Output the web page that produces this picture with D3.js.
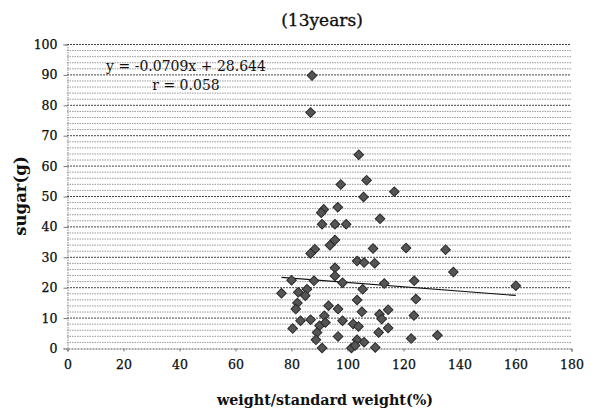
<!DOCTYPE html>
<html>
<head>
<meta charset="utf-8">
<script src="https://cdn.jsdelivr.net/npm/d3@7"></script>
<style>
  html, body { margin: 0; padding: 0; background: #fff; }
  svg { display: block; }
  text { font-family: "DejaVu Serif", "Liberation Serif", serif; fill: #111; }
</style>
</head>
<body>
<div id="chart"></div>
<script>
// ---- data ----
const xValues = [
  87.5, 87.0, 104.2, 107.0, 97.8, 116.9, 105.9, 96.7, 91.7, 90.8,
  111.8, 91.1, 95.7, 99.7, 95.7, 93.9, 88.5, 87.0, 109.3, 103.6,
  106.1, 109.9, 95.7, 95.7, 98.4, 80.2, 88.2, 113.3, 76.6, 82.6,
  85.7, 85.1, 105.6, 103.6, 82.3, 81.7, 93.4, 96.8, 114.7, 105.3,
  111.6, 112.4, 83.4, 87.0, 91.9, 98.4, 102.2, 104.1, 80.6, 90.2,
  89.3, 92.3, 114.7, 111.3, 96.8, 88.9, 103.6, 106.1, 91.1, 101.6,
  102.9, 110.1, 121.1, 135.2, 138.0, 124.0, 124.6, 123.9, 132.3, 122.9,
  160.3
];
const yValues = [
  89.6, 77.5, 63.6, 55.2, 53.8, 51.4, 49.7, 46.3, 45.6, 44.5,
  42.5, 40.7, 40.7, 40.7, 35.5, 33.8, 32.5, 31.1, 32.7, 28.6,
  28.1, 27.9, 26.4, 23.7, 21.5, 22.3, 22.1, 21.2, 18.0, 18.3,
  19.3, 17.2, 19.3, 15.8, 14.8, 12.8, 13.9, 12.8, 12.6, 11.9,
  11.1, 9.5, 9.0, 9.3, 10.6, 9.0, 7.9, 7.1, 6.4, 7.3,
  5.1, 8.4, 6.6, 5.1, 3.8, 2.7, 2.7, 1.9, 0.0, 0.0,
  0.8, 0.2, 32.9, 32.3, 25.0, 22.1, 16.1, 10.7, 4.2, 3.1,
  20.5
];
const xTicks = [0, 20, 40, 60, 80, 100, 120, 140, 160, 180];
const yTicks = [0, 10, 20, 30, 40, 50, 60, 70, 80, 90, 100];
const yMinorTicks = d3.range(2, 100, 2).filter(v => v % 10 !== 0);
const slope = -0.0709;
const intercept = 28.644;
const titleText = "(13years)";
const xLabel = "weight/standard weight(%)";
const yLabel = "sugar(g)";
const equationText = "y = -0.0709x + 28.644";
const rText = "r = 0.058";

// ---- layout ----
const W = 616, H = 411;
const svg = d3.select("#chart").append("svg").attr("width", W).attr("height", H);

const x = d3.scaleLinear().domain([0, 180]).range([67, 571]);
const y = d3.scaleLinear().domain([0, 100]).range([348, 44]);

// minor gridlines
svg.append("g").selectAll("line").data(yMinorTicks).join("line")
  .attr("x1", x(0)).attr("x2", x(180))
  .attr("y1", d => y(d) + 0.5).attr("y2", d => y(d) + 0.5)
  .attr("stroke", "#9a9a9a").attr("stroke-width", 1)
  .attr("stroke-dasharray", "1.5,1");

// major gridlines
svg.append("g").selectAll("line").data(yTicks.filter(v => v > 0)).join("line")
  .attr("x1", x(0)).attr("x2", x(180))
  .attr("y1", d => y(d) + 0.5).attr("y2", d => y(d) + 0.5)
  .attr("stroke", "#444").attr("stroke-width", 1)
  .attr("stroke-dasharray", "2,1");

// y axis
const yAxis = d3.axisLeft(y).tickValues(yTicks).tickSize(4).tickPadding(6);
const gy = svg.append("g").attr("transform", `translate(${x(0) + 0.5},0.5)`).call(yAxis);
gy.select(".domain").attr("stroke", "#888").attr("stroke-dasharray", "1.5,1");
gy.selectAll(".tick line").attr("stroke", "#777");
gy.selectAll(".tick text").style("font-family", "'DejaVu Serif', serif")
  .style("font-size", "12.5px").attr("fill", "#000")
  .attr("stroke", "#000").attr("stroke-width", 0.25);

// x axis
const xAxis = d3.axisBottom(x).tickValues(xTicks).tickSize(3).tickPadding(9);
const gx = svg.append("g").attr("transform", `translate(0.5,${y(0) + 0.5})`).call(xAxis);
gx.select(".domain").attr("stroke", "#555").attr("stroke-dasharray", "2,1");
gx.selectAll(".tick line").attr("stroke", "#777");
gx.selectAll(".tick text").style("font-family", "'DejaVu Serif', serif")
  .style("font-size", "12.5px").attr("fill", "#000")
  .attr("stroke", "#000").attr("stroke-width", 0.25);

// regression line
const xMin = d3.min(xValues), xMax = d3.max(xValues);
svg.append("line")
  .attr("x1", x(xMin)).attr("y1", y(slope * xMin + intercept))
  .attr("x2", x(xMax)).attr("y2", y(slope * xMax + intercept))
  .attr("stroke", "#111").attr("stroke-width", 1.2);

// points (diamonds)
const pts = xValues.map((v, i) => [v, yValues[i]]);
const diamond = d3.symbol().type(d3.symbolSquare).size(46);
svg.append("g").selectAll("path").data(pts).join("path")
  .attr("d", diamond)
  .attr("transform", d => `translate(${x(d[0])},${y(d[1])}) rotate(45)`)
  .attr("fill", "#555").attr("stroke", "#2a2a2a").attr("stroke-width", 1);

// equation text
svg.append("text").attr("x", 186).attr("y", 71).attr("text-anchor", "middle")
  .style("font-size", "14px").text(equationText);
svg.append("text").attr("x", 186).attr("y", 90).attr("text-anchor", "middle")
  .style("font-size", "14px").text(rText);

// title
svg.append("text").attr("x", 322).attr("y", 26).attr("text-anchor", "middle")
  .style("font-size", "17px").attr("stroke", "#111").attr("stroke-width", 0.35)
  .text(titleText);

// axis labels
svg.append("text").attr("x", 325).attr("y", 405).attr("text-anchor", "middle")
  .style("font-size", "14.3px").style("font-weight", "bold").text(xLabel);
svg.append("text").attr("transform", "translate(26,196) rotate(-90)")
  .attr("text-anchor", "middle")
  .style("font-size", "16.5px").style("font-weight", "bold").text(yLabel);
</script>
</body>
</html>
